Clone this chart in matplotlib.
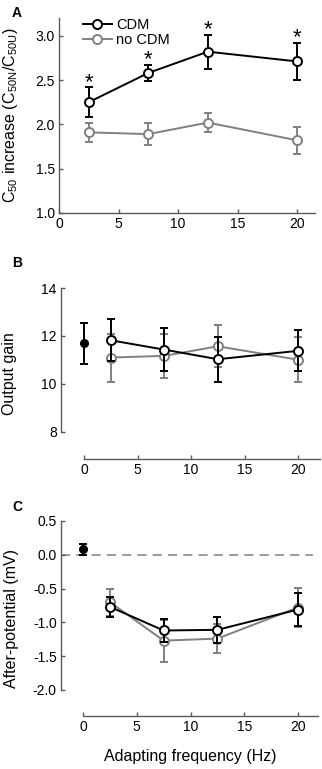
import matplotlib
matplotlib.use('Agg')
import matplotlib.pyplot as plt
from matplotlib.lines import Line2D

plt.rcParams['font.family'] = ['Liberation Sans', 'DejaVu Sans']
plt.rcParams['mathtext.fontset'] = 'custom'
plt.rcParams['mathtext.rm'] = 'Liberation Sans'
plt.rcParams['mathtext.it'] = 'Liberation Sans'

# adapting frequencies (Hz)
freqs = [2.5, 7.5, 12.5, 20]
freq_ticks = [0, 5, 10, 15, 20]

# A: C50 increase
c50_cdm = [2.25, 2.58, 2.82, 2.71]
c50_cdm_err = [0.17, 0.09, 0.19, 0.21]
c50_nocdm = [1.91, 1.89, 2.02, 1.82]
c50_nocdm_err = [0.11, 0.12, 0.11, 0.15]

# B: output gain (control at 0 Hz)
gain_ctrl = 11.7
gain_ctrl_err = 0.86
gain_cdm = [11.82, 11.43, 11.03, 11.38]
gain_cdm_err = [0.87, 0.90, 0.94, 0.85]
gain_nocdm = [11.10, 11.17, 11.57, 11.01]
gain_nocdm_err = [1.00, 0.92, 0.87, 0.95]

# C: after-potential (mV)
ap_ctrl = 0.08
ap_ctrl_err = 0.08
ap_cdm = [-0.77, -1.12, -1.11, -0.81]
ap_cdm_err = [0.15, 0.17, 0.19, 0.24]
ap_nocdm = [-0.70, -1.27, -1.24, -0.78]
ap_nocdm_err = [0.20, 0.31, 0.21, 0.29]

W, H = 322, 769
spine_col = '#5a5a5a'
gray = '#808080'


def box(left, top, right, bottom):
    return [left / W, 1 - bottom / H, (right - left) / W, (bottom - top) / H]


def style(ax):
    for s in ['top', 'right']:
        ax.spines[s].set_visible(False)
    for s in ['left', 'bottom']:
        ax.spines[s].set_color(spine_col)
        ax.spines[s].set_linewidth(1.0)
    ax.tick_params(direction='in', length=3, width=1, color=spine_col,
                   labelsize=10, pad=3)


def series(ax, y, err, col, z=3):
    ax.errorbar(freqs, y, yerr=err, color=col, lw=1.4, elinewidth=1.4,
                capsize=3, capthick=1.4, marker='o', ms=6.5, mfc='white',
                mec=col, mew=1.4, zorder=z, clip_on=False)


fig = plt.figure(figsize=(W / 100, H / 100), dpi=100)

# ---- A ----
axA = fig.add_axes(box(59, 18, 315, 213))
style(axA)
series(axA, c50_nocdm, c50_nocdm_err, gray, z=2)
series(axA, c50_cdm, c50_cdm_err, 'black', z=3)
for x, y, e in zip(freqs, c50_cdm, c50_cdm_err):
    axA.annotate('*', (x, y + e), xytext=(0, -4), textcoords='offset points',
                 ha='center', va='bottom', fontsize=16)
axA.set_xlim(0, 21.5)
axA.set_ylim(1.0, 3.2)
axA.set_xticks(freq_ticks)
axA.set_yticks([1.0, 1.5, 2.0, 2.5, 3.0])
axA.set_yticklabels(['1.0', '1.5', '2.0', '2.5', '3.0'])
axA.set_ylabel(r'C$_{50}$ increase (C$_{50N}$/C$_{50U}$)', fontsize=11.5)
axA.yaxis.set_label_coords(-0.152, 0.5)
handles = [Line2D([], [], color='black', lw=1.4, marker='o', ms=6.5,
                  mfc='white', mew=1.4),
           Line2D([], [], color=gray, lw=1.4, marker='o', ms=6.5,
                  mfc='white', mew=1.4)]
axA.legend(handles, ['CDM', 'no CDM'], loc='upper left',
           bbox_to_anchor=(0.07, 1.03), frameon=False, fontsize=10.5,
           handlelength=2.0, handletextpad=0.3, labelspacing=0.05,
           borderaxespad=0)

# ---- B ----
axB = fig.add_axes(box(61, 288, 320, 459))
style(axB)
axB.errorbar([0], [gain_ctrl], yerr=[gain_ctrl_err], color='black', lw=1.4,
             capsize=3, capthick=1.4, marker='o', ms=5.5, mfc='black',
             mec='black', clip_on=False)
series(axB, gain_nocdm, gain_nocdm_err, gray, z=2)
series(axB, gain_cdm, gain_cdm_err, 'black', z=3)
axB.set_xlim(-2.15, 22.05)
axB.set_ylim(6.87, 14)
axB.set_yticks([8, 10, 12, 14])
axB.set_xticks(freq_ticks)
axB.spines['left'].set_bounds(8, 14)
axB.spines['bottom'].set_bounds(0, 22.05)
axB.set_ylabel('Output gain', fontsize=11.5)
axB.yaxis.set_label_coords(-0.17, 0.5)

# ---- C ----
axC = fig.add_axes(box(61, 521, 318, 716))
style(axC)
axC.axhline(0, xmin=0, xmax=(21.4 + 2.05) / (21.86 + 2.05), color=gray,
            lw=1.1, ls=(0, (6, 4)), zorder=1)
axC.errorbar([0], [ap_ctrl], yerr=[ap_ctrl_err], color='black', lw=1.4,
             capsize=3, capthick=1.4, marker='o', ms=5.5, mfc='black',
             mec='black', clip_on=False)
series(axC, ap_nocdm, ap_nocdm_err, gray, z=2)
series(axC, ap_cdm, ap_cdm_err, 'black', z=3)
axC.set_xlim(-2.05, 21.86)
axC.set_ylim(-2.385, 0.5)
axC.set_yticks([-2.0, -1.5, -1.0, -0.5, 0.0, 0.5])
axC.set_yticklabels(['-2.0', '-1.5', '-1.0', '-0.5', '0.0', '0.5'])
axC.set_xticks(freq_ticks)
axC.spines['left'].set_bounds(-2.0, 0.5)
axC.spines['bottom'].set_bounds(0, 21.86)
axC.set_ylabel('After-potential (mV)', fontsize=11.5)
axC.yaxis.set_label_coords(-0.163, 0.5)

fig.text(190 / W, 1 - 757 / H, 'Adapting frequency (Hz)', ha='center',
         va='center', fontsize=11.5)

for letter, yy in [('A', 13), ('B', 263), ('C', 507)]:
    fig.text(12 / W, 1 - yy / H, letter, fontsize=10, fontweight='bold',
             ha='left', va='center')

fig.savefig('out.png', dpi=100)
